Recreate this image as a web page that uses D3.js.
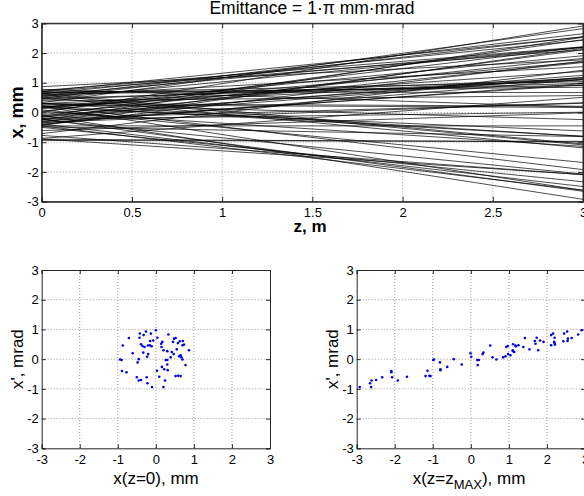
<!DOCTYPE html>
<html>
<head>
<meta charset="utf-8">
<script src="https://cdn.jsdelivr.net/npm/d3@7"></script>
<style>
    body { margin: 0; background: #fff; }
    svg { display: block; font-family: "Liberation Sans", Arial, sans-serif; }
</style>
</head>
<body>
<div id="chart"></div>
<script>
// particle coordinates at z = 0
const x0 = [
    -0.71, -0.87, -0.42, -0.32, -0.26, -0.13, 0.00, 0.04, -0.43, -0.39,
    -0.35, -0.30, -0.21, -0.11, -0.07, 0.14, 0.17, 0.15, 0.33, 0.48,
    0.58, 0.63, 0.71, 0.70, 0.55, 0.30, 0.42, 0.47, 0.87, -0.61,
    -0.33, -0.20, -0.23, -0.94, -0.90, -0.45, -0.48, 0.26, 0.30, 0.39,
    0.61, 0.67, 0.70, 0.16, 0.30, 0.22, 0.31, 0.78, -0.89, -0.77,
    -0.50, -0.45, -0.39, -0.24, -0.22, 0.03, 0.09, 0.24, -0.10, 0.20,
    0.52, 0.59, 0.65, 0.20, 0.45, 0.52, 0.65, 0.74, -0.16, -0.15
];
// particle angles x', mrad
const xp = [
    0.71, 0.46, 0.86, 0.81, 0.93, 0.86, 0.97, 0.72, 0.72, 0.50,
    0.44, 0.41, 0.46, 0.43, 0.63, 0.52, 0.58, 0.41, 0.83, 0.69,
    0.54, 0.60, 0.61, 0.47, 0.33, 0.27, 0.24, 0.17, 0.30, 0.20,
    0.22, 0.17, 0.08, -0.01, -0.03, 0.00, -0.11, -0.03, -0.03, 0.06,
    0.10, 0.06, -0.01, -0.26, -0.18, -0.34, -0.37, -0.20, -0.40, -0.44,
    -0.61, -0.72, -0.70, -0.61, -0.81, -0.39, -0.59, -0.72, -0.94, -0.94,
    -0.57, -0.56, -0.57, 0.30, 0.58, 0.71, 0.13, 0.49, 0.47, 0.61
];
const zMax = 3;
const zTicks = [0, 0.5, 1, 1.5, 2, 2.5, 3];
const mmTicks = [-3, -2, -1, 0, 1, 2, 3];

const particles = x0.map((x, i) => ({ x0: x, xp: xp[i], xEnd: x + zMax * xp[i] }));

const width = 584;
const height = 496;
const axisColor = "#262626";
const gridColor = "#9a9a9a";

const svg = d3
    .select("#chart")
    .append("svg")
    .attr("width", width)
    .attr("height", height);

svg.append("defs")
    .append("clipPath")
    .attr("id", "clip-top")
    .append("rect")
    .attr("x", 41.7)
    .attr("y", 23.3)
    .attr("width", 583 - 41.7)
    .attr("height", 201.7 - 23.3);

// draws frame, grid, ticks and tick labels for one panel
function drawAxes(xScale, yScale, xTicks, yTicks, tickLen) {
    const [x1, x2] = xScale.range();
    const [y1, y2] = yScale.range();
    const g = svg.append("g");

    g.selectAll(".vgrid")
        .data(xTicks.slice(1, -1))
        .enter()
        .append("line")
        .attr("x1", d => xScale(d))
        .attr("x2", d => xScale(d))
        .attr("y1", y2)
        .attr("y2", y1)
        .attr("stroke", gridColor)
        .attr("stroke-width", 1)
        .attr("stroke-dasharray", "1,2");

    g.selectAll(".hgrid")
        .data(yTicks.slice(1, -1))
        .enter()
        .append("line")
        .attr("x1", x1)
        .attr("x2", x2)
        .attr("y1", d => yScale(d))
        .attr("y2", d => yScale(d))
        .attr("stroke", gridColor)
        .attr("stroke-width", 1)
        .attr("stroke-dasharray", "1,2");

    const fmt = d => d3.format("")(d).replace("\u2212", "-");
    const bottom = d3.axisBottom(xScale).tickValues(xTicks).tickSize(-tickLen).tickPadding(6)
        .tickFormat(fmt);
    const top = d3.axisTop(xScale).tickValues(xTicks).tickSize(-tickLen).tickFormat("");
    const left = d3.axisLeft(yScale).tickValues(yTicks).tickSize(-tickLen).tickPadding(3)
        .tickFormat(fmt);
    const right = d3.axisRight(yScale).tickValues(yTicks).tickSize(-tickLen).tickFormat("");

    const axes = [
        [bottom, `translate(0,${y1})`],
        [top, `translate(0,${y2})`],
        [left, `translate(${x1},0)`],
        [right, `translate(${x2},0)`]
    ];
    axes.forEach(([ax, tr]) => {
        const a = g.append("g").attr("transform", tr).call(ax);
        a.selectAll("path, line").attr("stroke", axisColor);
        a.selectAll("text")
            .attr("fill", "#000")
            .style("font-size", "13px")
            .style("font-family", "'Liberation Sans', Arial, sans-serif");
    });
    return g;
}

// top panel: trajectories
const zScale = d3.scaleLinear().domain([0, zMax]).range([41.7, 583]);
const xTop = d3.scaleLinear().domain([-3, 3]).range([201.7, 23.3]);

drawAxes(zScale, xTop, zTicks, mmTicks, 5);

const line = d3.line().x(d => zScale(d[0])).y(d => xTop(d[1]));

svg.append("g")
    .attr("clip-path", "url(#clip-top)")
    .selectAll("path")
    .data(particles)
    .enter()
    .append("path")
    .attr("d", d => line([[0, d.x0], [zMax, d.xEnd]]))
    .attr("fill", "none")
    .attr("stroke", "#000")
    .attr("stroke-width", 0.7);

// redraw frame over lines
svg.append("rect")
    .attr("x", 41.7).attr("y", 23.3)
    .attr("width", 583 - 41.7).attr("height", 201.7 - 23.3)
    .attr("fill", "none").attr("stroke", axisColor);

svg.append("text")
    .attr("x", 312)
    .attr("y", 14)
    .attr("text-anchor", "middle")
    .style("font-size", "17.5px")
    .text("Emittance = 1\u00b7\u03c0 mm\u00b7mrad");

svg.append("text")
    .attr("x", 310)
    .attr("y", 232)
    .attr("text-anchor", "middle")
    .style("font-size", "17px")
    .style("font-weight", "bold")
    .text("z, m");

svg.append("text")
    .attr("transform", `translate(23,${(23.3 + 201.7) / 2}) rotate(-90)`)
    .attr("text-anchor", "middle")
    .style("font-size", "18px")
    .style("font-weight", "bold")
    .text("x, mm");

// bottom panels: phase space
const yPhase = d3.scaleLinear().domain([-3, 3]).range([448.3, 270]);
const xLeft = d3.scaleLinear().domain([-3, 3]).range([41.7, 270]);
const xRight = d3.scaleLinear().domain([-3, 3]).range([356.7, 585]);

drawAxes(xLeft, yPhase, mmTicks, mmTicks, 4);
drawAxes(xRight, yPhase, mmTicks, mmTicks, 4);

svg.append("g")
    .selectAll("circle")
    .data(particles)
    .enter()
    .append("circle")
    .attr("cx", d => xLeft(d.x0))
    .attr("cy", d => yPhase(d.xp))
    .attr("r", 1.3)
    .attr("fill", "#0000e6");

svg.append("g")
    .selectAll("circle")
    .data(particles)
    .enter()
    .append("circle")
    .attr("cx", d => xRight(d.xEnd))
    .attr("cy", d => yPhase(d.xp))
    .attr("r", 1.3)
    .attr("fill", "#0000e6");

svg.append("text")
    .attr("x", 156)
    .attr("y", 484)
    .attr("text-anchor", "middle")
    .style("font-size", "17px")
    .text("x(z=0), mm");

const rightLabel = svg.append("text")
    .attr("x", 469)
    .attr("y", 484)
    .attr("text-anchor", "middle")
    .style("font-size", "17px");
rightLabel.append("tspan").text("x(z=z");
rightLabel.append("tspan").attr("dy", 5).style("font-size", "13px").text("MAX");
rightLabel.append("tspan").attr("dy", -5).text("), mm");

[[23, "x', mrad"], [338, "x', mrad"]].forEach(([x, label]) => {
    svg.append("text")
        .attr("transform", `translate(${x},${(270 + 448.3) / 2}) rotate(-90)`)
        .attr("text-anchor", "middle")
        .style("font-size", "17px")
        .text(label);
});
</script>
</body>
</html>
